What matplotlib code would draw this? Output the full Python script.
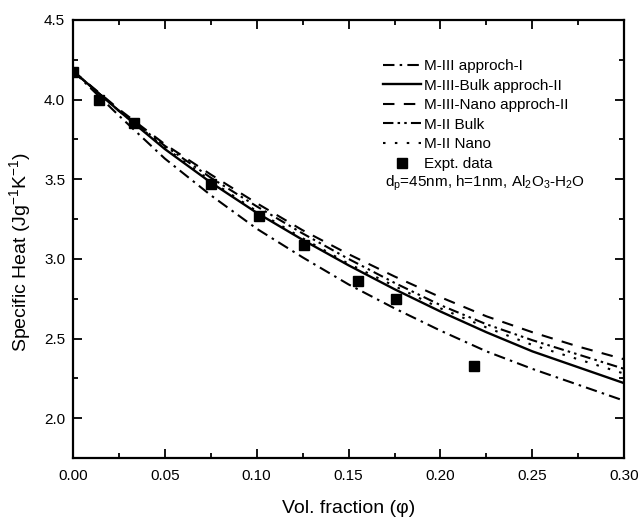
import matplotlib
matplotlib.use("Agg")
import matplotlib.pyplot as plt
from matplotlib.ticker import MultipleLocator, FormatStrFormatter

plt.rcParams['font.family'] = ['Liberation Sans', 'DejaVu Sans']
plt.rcParams['mathtext.fontset'] = 'custom'
plt.rcParams['mathtext.rm'] = 'Liberation Sans'
plt.rcParams['mathtext.it'] = 'Liberation Sans'

phi = [0.0, 0.025, 0.05, 0.075, 0.1, 0.125, 0.15, 0.175, 0.2, 0.225, 0.25, 0.275, 0.3]
m3_approach1 = [4.18, 3.90, 3.63, 3.40, 3.19, 3.01, 2.84, 2.69, 2.55, 2.42, 2.31, 2.21, 2.11]
m3_bulk2 = [4.18, 3.93, 3.69, 3.48, 3.29, 3.12, 2.96, 2.81, 2.67, 2.54, 2.42, 2.32, 2.22]
m3_nano2 = [4.18, 3.94, 3.72, 3.53, 3.35, 3.18, 3.03, 2.89, 2.76, 2.64, 2.54, 2.45, 2.37]
m2_bulk = [4.18, 3.93, 3.71, 3.51, 3.33, 3.16, 3.00, 2.85, 2.71, 2.59, 2.49, 2.40, 2.31]
m2_nano = [4.18, 3.93, 3.70, 3.49, 3.30, 3.13, 2.97, 2.83, 2.69, 2.57, 2.46, 2.37, 2.28]

expt_phi = [0.0, 0.014, 0.033, 0.075, 0.101, 0.126, 0.155, 0.176, 0.218]
expt_cp = [4.17, 4.00, 3.85, 3.47, 3.27, 3.09, 2.86, 2.75, 2.33]

labels = ["M-III approch-I", "M-III-Bulk approch-II", "M-III-Nano approch-II",
          "M-II Bulk", "M-II Nano", "Expt. data"]

fig = plt.figure(figsize=(6.39, 5.23), dpi=100)
ax = fig.add_axes([0.114, 0.124, 0.863, 0.838])

lw = 1.5
ax.plot(phi, m3_approach1, color='black', lw=lw, linestyle=(0, (5.5, 2.5, 1.2, 2.5)), label=labels[0])
ax.plot(phi, m3_bulk2, color='black', lw=1.7, linestyle='-', label=labels[1])
ax.plot(phi, m3_nano2, color='black', lw=lw, linestyle=(0, (5.5, 4.5)), label=labels[2])
ax.plot(phi, m2_bulk, color='black', lw=lw, linestyle=(0, (5, 2, 1.2, 2, 1.2, 2)), label=labels[3])
ax.plot(phi, m2_nano, color='black', lw=lw, linestyle=(0, (1.2, 4.5)), label=labels[4])
ax.plot(expt_phi, expt_cp, linestyle='none', marker='s', color='black', markersize=6.5, label=labels[5])

ax.set_xlim(0, 0.30)
ax.set_ylim(1.75, 4.5)
ax.xaxis.set_major_locator(MultipleLocator(0.05))
ax.xaxis.set_minor_locator(MultipleLocator(0.025))
ax.yaxis.set_major_locator(MultipleLocator(0.5))
ax.yaxis.set_minor_locator(MultipleLocator(0.25))
ax.xaxis.set_major_formatter(FormatStrFormatter('%.2f'))
ax.yaxis.set_major_formatter(FormatStrFormatter('%.1f'))
ax.tick_params(which='both', direction='in', top=True, right=True, labelsize=11, width=1.3)
ax.tick_params(which='major', length=6.5)
ax.tick_params(which='minor', length=3.5)
ax.tick_params(axis='x', which='major', pad=8)
ax.tick_params(axis='y', which='major', pad=5.5)
for s in ax.spines.values():
    s.set_linewidth(1.6)

ax.set_xlabel("Vol. fraction (\u03c6)", fontsize=14, labelpad=12)
ax.set_ylabel("Specific Heat (Jg$^{-1}$K$^{-1}$)", fontsize=14)
ax.yaxis.set_label_coords(-0.072, 0.47)

leg = ax.legend(loc='upper left', bbox_to_anchor=(0.552, 0.925), frameon=False,
                fontsize=11, handlelength=2.45, handletextpad=0.2, labelspacing=0.37,
                borderaxespad=0)
ax.text(0.566, 0.628, "d$_\\mathrm{p}$=45nm, h=1nm, Al$_2$O$_3$-H$_2$O", transform=ax.transAxes,
        fontsize=11, ha='left', va='center')

fig.savefig("out.png", dpi=100)
